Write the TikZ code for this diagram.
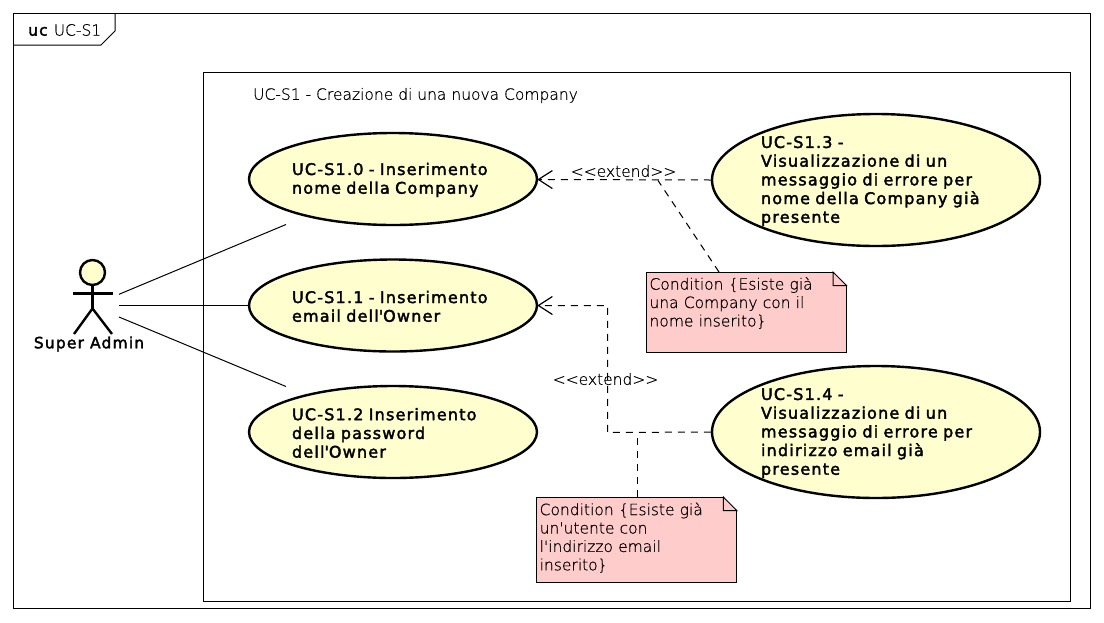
\documentclass[tikz,border=0pt]{standalone}
\usepackage{fontspec}
\setmainfont{DejaVu Sans ExtraLight}[FakeBold=0.5,BoldFont={DejaVu Sans},BoldFeatures={FakeBold=2.2,LetterSpace=7.5}]
\usetikzlibrary{shapes.geometric,arrows.meta}
\definecolor{ucfill}{HTML}{FEFECE}
\definecolor{notefill}{HTML}{FFCCCC}
\newcommand{\aq}{\textquotesingle}
\tikzset{
  x=1pt,y=-1pt,
  frameline/.style={draw=black,line width=1pt},
  usecase/.style={ellipse,draw=black,fill=ucfill,line width=2.4pt,inner xsep=0pt,inner ysep=-12pt,align=left,font=\bfseries\fontsize{16}{18.7}\selectfont,execute at begin node={\rule{0pt}{14pt}}},
  notebox/.style={rectangle,draw=black,fill=notefill,line width=1pt,minimum width=200pt,inner xsep=3pt,inner ysep=0pt,text width=194pt,align=left,font=\fontsize{15.5}{18.4}\selectfont},
  plainlabel/.style={inner sep=0pt,font=\fontsize{15.5}{18}\selectfont},
  assoc/.style={draw=black,line width=1pt},
  dashline/.style={draw=black,line width=1pt,dash pattern=on 7pt off 6pt},
  extendarrow/.style={dashline,-{Straight Barb[length=14pt,width=18pt,line width=1.2pt]}},
  actorline/.style={draw=black,line width=2.4pt},
}
\begin{document}
\begin{tikzpicture}
\useasboundingbox (0,0) rectangle (1104,622);
% frames
\coordinate (fa) at (13.5,13.5);
\coordinate (fb) at (1090.5,608.5);
\draw[frameline] (fa) rectangle (fb);
\draw[frameline] (13.5,45) -- (101,45) -- (115,31) -- (115,13.5);
\node[plainlabel,anchor=west] (frametitle) at (28,30) {\textbf{uc} UC-S1};
\coordinate (ba) at (203.5,72.5);
\coordinate (bb) at (1070.5,601.5);
\draw[frameline] (ba) rectangle (bb);
\node[plainlabel,anchor=west] (boxtitle) at (253,95.5) {UC-S1 - Creazione di una nuova Company};
% use cases
\node[usecase,minimum width=288pt,minimum height=92pt,text width=202pt] (u0) at (393,179) {UC-S1.0 - Inserimento\\nome della Company};
\node[usecase,minimum width=288pt,minimum height=92pt,text width=202pt] (u1) at (393,305.5) {UC-S1.1 - Inserimento\\email dell\aq Owner};
\node[usecase,minimum width=288pt,minimum height=92pt,text width=202pt] (u2) at (393,432) {UC-S1.2 Inserimento\\della password\\dell\aq Owner};
\node[usecase,minimum width=328pt,minimum height=132pt,text width=230pt] (u3) at (876,180) {UC-S1.3 -\\Visualizzazione di un\\messaggio di errore per\\nome della Company già\\presente};
\node[usecase,minimum width=328pt,minimum height=132pt,text width=230pt] (u4) at (876,432) {UC-S1.4 -\\Visualizzazione di un\\messaggio di errore per\\indirizzo email già\\presente};
% actor
\node[circle,draw=black,fill=ucfill,line width=2.4pt,minimum size=25pt,inner sep=0pt] (head) at (92.5,272.5) {};
\coordinate (hip) at (92.5,308.5);
\coordinate (armL) at (73,293.5);
\coordinate (armR) at (112.5,293.5);
\coordinate (legL) at (74,334);
\coordinate (legR) at (112,334);
\draw[actorline] (head.south) -- (hip);
\draw[actorline] (armL) -- (armR);
\draw[actorline] (legL) -- (hip) -- (legR);
\node[inner sep=0pt,font=\bfseries\fontsize{15.5}{18}\selectfont] (actor) at (89,344) {Super Admin};
% associations
\coordinate (a0) at (119,294.3);
\coordinate (a1) at (119,305.5);
\coordinate (a2) at (119,317);
\coordinate (e0) at (286,224.5);
\coordinate (e2) at (286,386.5);
\draw[assoc] (a0) -- (e0);
\draw[assoc] (a1) -- (u1.west);
\draw[assoc] (a2) -- (e2);
% notes
\node[notebox,minimum height=80pt] (n1) at (746.5,312) {Condition \{Esiste già\\una Company con il\\nome inserito\}\\\mbox{}\rule[-2pt]{0pt}{0pt}};
\node[notebox,minimum height=85pt] (n2) at (636.7,539.5) {Condition \{Esiste già\\un\aq utente con\\l\aq indirizzo email\\inserito\}\rule[-6pt]{0pt}{0pt}};
\fill[white] (833,271.5) -- (847.5,271.5) -- (847.5,285.5) -- cycle;
\draw[frameline] (833,272) -- (846.5,285.5) -- (833,285.5) -- cycle;
\draw[frameline] (846.5,285.5) -- (846.5,290);
\fill[white] (723.3,496.5) -- (737.5,496.5) -- (737.5,510.5) -- cycle;
\draw[frameline] (723.3,497) -- (736.7,510.5) -- (723.3,510.5) -- cycle;
\draw[frameline] (736.7,510.5) -- (736.7,515);
% extends
\coordinate (t0) at (537.3,179.5);
\coordinate (t1) at (537.3,305.5);
\coordinate (k1) at (607.5,305.5);
\coordinate (k2) at (607.5,432.5);
\draw[extendarrow] (u3.west) -- (t0);
\draw[extendarrow] (u4.west) -- (k2) -- (k1) -- (t1);
\node[plainlabel] (ext1) at (623.5,171) {{<}{<}extend{>}{>}};
\node[plainlabel] (ext2) at (605.5,379) {{<}{<}extend{>}{>}};
% note links
\coordinate (p1) at (719,272);
\coordinate (q1) at (658,180.5);
\coordinate (p2) at (637.5,497);
\coordinate (q2) at (637.5,432.5);
\draw[dashline] (p1) -- (q1);
\draw[dashline] (p2) -- (q2);
\end{tikzpicture}
\end{document}
